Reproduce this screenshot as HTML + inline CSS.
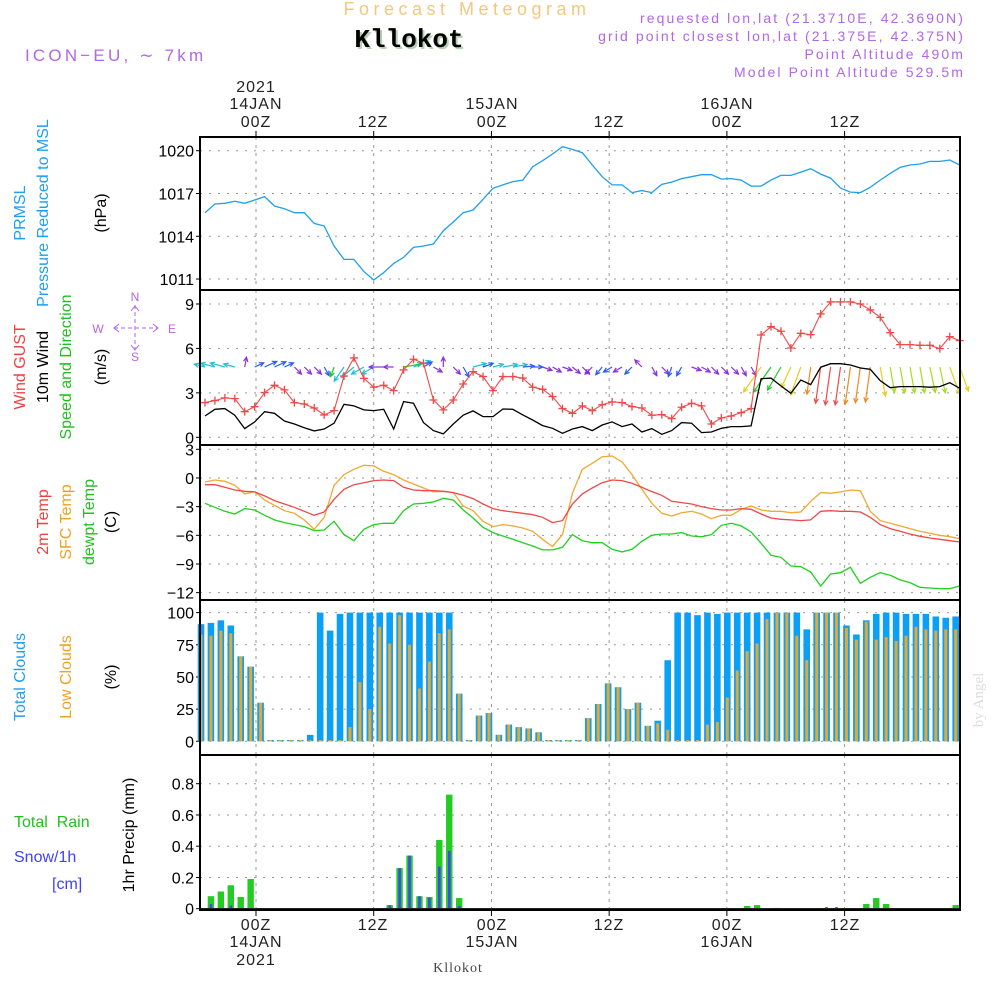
<!DOCTYPE html>
<html><head><meta charset="utf-8">
<style>
html,body{margin:0;padding:0;background:#fff;}
svg{display:block;font-family:"Liberation Sans",sans-serif;}
</style></head>
<body>
<svg id="chart" width="1000" height="1000" viewBox="0 0 1000 1000" xmlns="http://www.w3.org/2000/svg">
  <text x="467" y="15" text-anchor="middle" font-size="18" fill="#f3c77e" letter-spacing="4.5">Forecast Meteogram</text>
  <text x="411" y="49" text-anchor="middle" font-size="26" font-weight="bold" font-family="Liberation Mono,monospace" fill="#b8d0b8">Kllokot</text>
  <text x="409" y="47" text-anchor="middle" font-size="26" font-weight="bold" font-family="Liberation Mono,monospace" fill="#000">Kllokot</text>
  <text x="25" y="61" font-size="17" fill="#b266e8" letter-spacing="3.2">ICON−EU, ∼ 7km</text>
  <g font-size="14" fill="#b266e8" text-anchor="end" letter-spacing="2.1">
    <text x="965" y="23">requested lon,lat (21.3710E, 42.3690N)</text>
    <text x="965" y="41">grid point closest lon,lat (21.375E, 42.375N)</text>
    <text x="965" y="59">Point Altitude 490m</text>
    <text x="965" y="77">Model Point Altitude 529.5m</text>
  </g>
  <g id="toplabels" font-size="16" fill="#222" text-anchor="middle" letter-spacing="1">
    <text x="256" y="92">2021</text><text x="256" y="109">14JAN</text><text x="256" y="127">00Z</text>
    <text x="373" y="127">12Z</text>
    <text x="492" y="109">15JAN</text><text x="492" y="127">00Z</text>
    <text x="609" y="127">12Z</text>
    <text x="727" y="109">16JAN</text><text x="727" y="127">00Z</text>
    <text x="845" y="127">12Z</text>
  </g>
  <g font-size="16" fill="#222" text-anchor="middle" letter-spacing="1">
    <text x="256" y="930">00Z</text><text x="256" y="947">14JAN</text><text x="256" y="965">2021</text>
    <text x="373" y="930">12Z</text>
    <text x="492" y="930">00Z</text><text x="492" y="947">15JAN</text>
    <text x="609" y="930">12Z</text>
    <text x="727" y="930">00Z</text><text x="727" y="947">16JAN</text>
    <text x="845" y="930">12Z</text>
  </g>
  <text x="458" y="972" text-anchor="middle" font-size="14" font-family="Liberation Serif,serif" fill="#444" letter-spacing="1">Kllokot</text>
  <text transform="translate(983,700) rotate(-90)" text-anchor="middle" font-size="15" font-family="Liberation Serif,serif" fill="#ddd">by Angel</text>

  <g font-size="16" text-anchor="middle">
    <text transform="translate(25,213) rotate(-90)" fill="#1e9ff0">PRMSL</text>
    <text transform="translate(48,213) rotate(-90)" fill="#1e9ff0">Pressure Reduced to MSL</text>
    <text transform="translate(106,213) rotate(-90)" fill="#000">(hPa)</text>
  </g>
  <g font-size="16" text-anchor="middle">
    <text transform="translate(25,367) rotate(-90)" fill="#f04040">Wind GUST</text>
    <text transform="translate(48,367) rotate(-90)" fill="#000">10m Wind</text>
    <text transform="translate(71,367) rotate(-90)" fill="#20c020">Speed and Direction</text>
    <text transform="translate(106,367) rotate(-90)" fill="#000">(m/s)</text>
  </g>
  <g fill="#b266e8" stroke="#b266e8" font-size="12" text-anchor="middle">
    <text x="135" y="301" stroke="none">N</text>
    <text x="135" y="361" stroke="none">S</text>
    <text x="98" y="333" stroke="none">W</text>
    <text x="172" y="333" stroke="none">E</text>
    <line x1="135" y1="305" x2="135" y2="349" stroke-dasharray="4 3"/>
    <line x1="114" y1="328" x2="158" y2="328" stroke-dasharray="4 3"/>
    <polyline points="131,311 135,306 139,311" fill="none"/>
    <polyline points="131,345 135,350 139,345" fill="none"/>
    <polyline points="119,324 114,328 119,332" fill="none"/>
    <polyline points="153,324 158,328 153,332" fill="none"/>
  </g>
  <g font-size="16" text-anchor="middle">
    <text transform="translate(48,522) rotate(-90)" fill="#f04040">2m Temp</text>
    <text transform="translate(71,522) rotate(-90)" fill="#f0a020">SFC Temp</text>
    <text transform="translate(94,522) rotate(-90)" fill="#20c020">dewpt Temp</text>
    <text transform="translate(116,522) rotate(-90)" fill="#000">(C)</text>
  </g>
  <g font-size="16" text-anchor="middle">
    <text transform="translate(25,677) rotate(-90)" fill="#1e9ff0">Total Clouds</text>
    <text transform="translate(71,677) rotate(-90)" fill="#f0a020">Low Clouds</text>
    <text transform="translate(116,677) rotate(-90)" fill="#000">(%)</text>
  </g>
  <g font-size="16">
    <text x="14" y="827" fill="#20c020" xml:space="preserve">Total  Rain</text>
    <text x="14" y="862" fill="#4040ff">Snow/1h</text>
    <text x="52" y="889" fill="#4040ff">[cm]</text>
    <text transform="translate(134,835) rotate(-90)" text-anchor="middle" fill="#000">1hr Precip (mm)</text>
  </g>
  <g id="plots"></g>
</svg>
<script>
const timeTickHours = [0, 12, 24, 36, 48, 60];
const pressure = [1015.65,1016.26,1016.31,1016.45,1016.31,1016.54,1016.78,1016.12,1015.93,1015.65,1015.65,1014.9,1014.72,1013.32,1012.38,1012.38,1011.52,1010.93,1011.45,1012.1,1012.52,1013.22,1013.32,1013.46,1014.39,1015.0,1015.65,1015.84,1016.59,1017.36,1017.6,1017.83,1017.94,1018.88,1019.3,1019.77,1020.28,1020.09,1019.86,1019.0,1018.18,1017.6,1017.6,1017.06,1017.2,1017.06,1017.64,1017.8,1018.04,1018.18,1018.32,1018.32,1018.01,1018.04,1017.94,1017.52,1017.52,1017.94,1018.27,1018.27,1018.5,1018.74,1018.36,1018.08,1017.38,1017.1,1017.06,1017.43,1017.94,1018.41,1018.83,1019.0,1019.07,1019.25,1019.25,1019.35,1019.0];
const pressureTicks = [1011, 1014, 1017, 1020];
const gust = [2.34,2.48,2.66,2.61,1.73,2.07,3.02,3.51,3.2,2.34,2.25,1.98,1.51,1.8,4.14,5.36,3.98,3.38,3.51,3.15,4.55,5.27,5.0,2.52,1.85,2.52,3.6,4.43,4.1,3.15,4.1,4.1,4.0,3.38,3.24,2.75,1.94,1.62,2.12,1.8,2.2,2.39,2.34,2.07,1.98,1.49,1.53,1.26,2.03,2.3,2.12,0.9,1.31,1.44,1.67,1.94,6.91,7.47,7.16,6.03,7.02,6.93,8.33,9.14,9.14,9.14,9.0,8.6,8.1,7.07,6.26,6.26,6.21,6.21,5.99,6.8,6.53];
const windSpeed = [1.44,1.89,1.94,1.49,0.59,1.04,1.73,1.62,1.1,0.9,0.65,0.43,0.56,0.95,2.23,2.12,1.85,1.8,1.89,0.56,2.41,2.3,0.99,0.45,0.23,0.9,1.49,1.78,1.4,1.4,1.91,1.89,1.51,1.17,0.79,0.61,0.27,0.56,0.72,0.45,0.83,1.04,0.72,0.9,0.36,0.59,0.2,0.45,0.99,0.95,0.32,0.36,0.61,0.72,0.72,0.77,3.96,4.0,3.47,2.97,3.87,3.56,4.73,4.97,4.97,4.88,4.68,4.59,3.83,3.35,3.42,3.42,3.42,3.38,3.42,3.69,3.31];
const windDir = [285,285,285,285,10,65,65,65,65,135,135,135,150,200,215,230,240,240,270,270,80,70,60,120,0,135,150,75,70,75,80,80,85,90,110,120,110,130,135,225,220,240,240,225,315,150,135,200,210,110,120,135,135,135,150,150,215,215,210,205,200,188,188,188,188,188,188,188,170,170,170,170,170,168,168,160,160];
const windColorClass = ["C","C","C","C","P","B","B","B","B","P","P","P","B","G","C","C","C","C","P","P","G","C","B","P","P","P","B","C","B","C","C","C","B","B","P","P","P","P","P","P","B","B","P","B","P","P","P","B","B","P","P","P","P","P","P","P","Y","G","G","Y","Y","O","R","R","R","O","O","O","Y","YG","YG","YG","YG","YG","YG","Y","Y"];
const windTicks = [0, 3, 6, 9];
const temp2m = [-0.70,-0.70,-0.98,-1.26,-1.39,-1.46,-1.88,-2.37,-2.72,-3.07,-3.49,-3.91,-3.56,-2.23,-1.19,-0.70,-0.49,-0.28,-0.21,-0.28,-0.98,-1.26,-1.33,-1.33,-1.39,-1.53,-1.81,-2.16,-2.72,-3.21,-3.42,-3.56,-3.70,-3.84,-4.12,-4.67,-4.46,-2.72,-1.67,-1.05,-0.49,-0.21,-0.28,-0.56,-0.98,-1.43,-1.81,-2.44,-2.58,-2.72,-3.00,-3.21,-3.35,-3.35,-3.21,-3.28,-3.77,-4.19,-4.32,-4.39,-4.46,-4.39,-3.49,-3.42,-3.49,-3.49,-3.56,-4.12,-4.88,-5.30,-5.58,-5.86,-6.10,-6.28,-6.42,-6.56,-6.70];
const tempSfc = [-0.42,-0.21,-0.35,-0.77,-1.67,-1.43,-2.30,-2.86,-3.42,-3.70,-4.39,-5.37,-4.12,-0.77,0.35,0.91,1.33,1.26,0.70,0.35,-0.21,-0.63,-1.05,-1.46,-1.39,-1.53,-2.93,-3.42,-4.53,-5.09,-4.88,-5.02,-5.23,-5.58,-6.42,-7.18,-5.93,-1.60,0.91,1.54,2.23,2.30,1.67,0.35,-1.19,-2.65,-3.70,-3.98,-3.63,-3.49,-3.77,-4.26,-3.91,-3.91,-3.28,-2.93,-3.35,-3.49,-3.49,-3.63,-3.56,-2.44,-1.53,-1.60,-1.46,-1.26,-1.33,-3.49,-4.46,-4.74,-5.02,-5.30,-5.58,-5.79,-6.00,-6.14,-6.35];
const dewpoint = [-2.65,-3.07,-3.49,-3.77,-3.21,-3.35,-3.91,-4.39,-4.67,-4.88,-5.09,-5.51,-5.44,-4.53,-5.93,-6.56,-5.37,-4.88,-4.74,-4.74,-3.42,-2.72,-2.65,-2.51,-2.13,-2.30,-3.35,-4.19,-5.16,-5.72,-6.07,-6.42,-6.77,-7.12,-7.53,-7.53,-7.25,-5.93,-6.56,-6.77,-6.77,-7.46,-7.74,-7.46,-6.63,-6.00,-5.86,-5.86,-5.72,-6.07,-6.14,-5.93,-4.95,-4.74,-5.02,-5.65,-6.84,-8.09,-8.30,-9.21,-9.28,-9.84,-11.30,-10.05,-9.91,-9.35,-11.02,-10.39,-9.91,-10.18,-10.67,-10.95,-11.44,-11.51,-11.58,-11.58,-11.30];
const tempTicks = [-12, -9, -6, -3, 0, 3];
const totalClouds = [91,92,94,90,66,58,30,1,1,1,1,5,100,86,99,100,100,100,100,100,100,100,100,100,100,100,37,1,20,22,5,13,11,10,7,1,1,1,1,18,29,45,42,25,30,12,16,63,100,100,98,100,99,100,100,100,100,100,100,100,100,87,100,100,100,90,83,94,99,100,100,99,99,99,97,96,97];
const lowClouds = [83,82,86,84,66,58,30,1,1,1,1,1,1,1,1,11,46,25,89,76,98,75,41,62,84,87,37,1,20,22,5,13,11,10,7,1,1,1,1,18,29,45,42,25,30,12,14,9,1,1,1,13,15,34,55,70,76,95,100,100,82,63,100,100,100,88,79,93,79,81,78,82,89,87,86,87,87];
const cloudTicks = [0, 25, 50, 75, 100];
const rain = [0,0.08,0.11,0.15,0.075,0.19,0.003,0,0,0,0,0,0,0,0,0,0,0,0,0.023,0.26,0.34,0.08,0.075,0.44,0.73,0.068,0,0,0,0,0,0,0,0,0,0,0,0,0,0,0,0,0,0,0,0,0,0,0,0,0,0,0,0,0.017,0.023,0,0.005,0,0,0,0,0,0,0,0,0.03,0.068,0.03,0.003,0,0,0,0,0,0.023];
const snow = [0,0.03,0.003,0.02,0,0,0,0,0,0,0,0,0,0,0,0,0,0,0,0.023,0.26,0.34,0.08,0.07,0.27,0.37,0.017,0,0,0,0,0,0,0,0,0,0,0,0,0,0,0,0,0,0,0,0,0,0,0,0,0,0,0,0,0,0,0,0.003,0,0,0,0,0.01,0.01,0,0,0,0,0,0,0,0,0,0,0.003,0];
const precipTicks = [0, 0.2, 0.4, 0.6, 0.8];

const X0 = 200, X1 = 960;
const xIdx = i => 205 + i * 9.93;
const xHour = h => 256 + h * 9.81;
const panels = [
  {name:'pressure', top:137, bot:290, y: v => 150.7 + (1020 - v) * 14.26, ticks: pressureTicks, fmt: v => String(v)},
  {name:'wind', top:290, bot:445, y: v => 437.3 - v * 14.81, ticks: windTicks, fmt: v => String(v)},
  {name:'temperature', top:445, bot:600, y: v => 449.3 + (3 - v) * 9.557, ticks: tempTicks, fmt: v => v < 0 ? '−' + Math.abs(v) : String(v)},
  {name:'clouds', top:600, bot:755, y: v => 741.3 - v * 1.287, ticks: cloudTicks, fmt: v => String(v)},
  {name:'precip', top:755, bot:910, y: v => 908.7 - v * 156.25, ticks: precipTicks, fmt: v => v === 0 ? '0' : v.toFixed(1)}
];
const NS = 'http://www.w3.org/2000/svg';
const root = document.getElementById('plots');
function mk(tag, attrs, parent) {
  const e = document.createElementNS(NS, tag);
  for (const k in attrs) e.setAttribute(k, attrs[k]);
  (parent || root).appendChild(e);
  return e;
}
function linePath(arr, yf) {
  return arr.map((v, i) => (i ? 'L' : 'M') + xIdx(i).toFixed(1) + ',' + yf(v).toFixed(1)).join(' ');
}

panels.forEach(p => {
  const g = mk('g', {});
  
  
  timeTickHours.forEach(h => {
    const l = mk('line', {x1: xHour(h), x2: xHour(h), y1: p.top, y2: p.bot, stroke: '#999', 'stroke-dasharray': '3 5'}, g);
    
    
  });
  p.ticks.forEach(t => {
    const y = p.y(t);
    const gl = mk('line', {x1: X0, x2: X1, y1: y, y2: y, stroke: '#999', 'stroke-dasharray': '2 7'}, g);
    
    
    mk('line', {x1: X0 - 4, x2: X0, y1: y, y2: y, stroke: '#000'}, g);
    const tx = mk('text', {x: 194, y: y + 6, 'text-anchor': 'end', 'font-size': 16, fill: '#000'}, g);
    tx.textContent = p.fmt(t);
    
    
  });
  p.g = g;
});

const pl = mk('path', {d: linePath(pressure, panels[0].y), fill: 'none', stroke: '#1e9ff0', 'stroke-width': 1.3});



const colorMap = {P:'#8a30e0', B:'#2a5cf0', C:'#20c0d0', G:'#20c830', Y:'#e6cf20', YG:'#a6dc20', O:'#f08a20', R:'#f04848'};
const aw = panels[1];
windDir.forEach((d, i) => {
  const len = Math.max(10, windSpeed[i] * 7.7);
  const a = d * Math.PI / 180;
  const x1 = xIdx(i), y1 = 367;
  const x2 = x1 + Math.sin(a) * len, y2 = y1 - Math.cos(a) * len;
  const c = colorMap[windColorClass[i]];
  const hl = 5, ha = 0.45;
  const b = Math.atan2(y2 - y1, x2 - x1);
  const pts = `${(x2 - hl*Math.cos(b-ha)).toFixed(1)},${(y2 - hl*Math.sin(b-ha)).toFixed(1)} ${x2.toFixed(1)},${y2.toFixed(1)} ${(x2 - hl*Math.cos(b+ha)).toFixed(1)},${(y2 - hl*Math.sin(b+ha)).toFixed(1)}`;
  const ag = mk('g', {stroke: c, fill: 'none', 'stroke-width': 1.2});
  
  
  mk('line', {x1, y1, x2: x2.toFixed(1), y2: y2.toFixed(1)}, ag);
  mk('polyline', {points: pts}, ag);
});
const gl = mk('path', {d: linePath(gust, aw.y), fill: 'none', stroke: '#f04848', 'stroke-width': 1.1});


gust.forEach((v, i) => {
  const x = xIdx(i), y = aw.y(v);
  const m = mk('path', {d: `M${x-4},${y}H${x+4}M${x},${y-4}V${y+4}`, stroke: '#f04848', 'stroke-width': 1.3});
  
  
});
const wl = mk('path', {d: linePath(windSpeed, aw.y), fill: 'none', stroke: '#000', 'stroke-width': 1.3});



const tp = panels[2];
[[tempSfc, '#f0a830', 'sfc-temp-line'], [temp2m, '#f04848', 'temp-2m-line'], [dewpoint, '#20d020', 'dewpoint-line']].forEach(s => {
  const l = mk('path', {d: linePath(s[0], tp.y), fill: 'none', stroke: s[1], 'stroke-width': 1.3});
  
  
});

const cp = panels[3];
totalClouds.forEach((v, i) => {
  const xc = xIdx(i) - 4;
  const y = cp.y(v), y0 = cp.y(0);
  const r = mk('rect', {x: xc - 3.3, y, width: 6.6, height: y0 - y, fill: '#0aa0f5'});
  
  
  const yl = cp.y(lowClouds[i]);
  const r2 = mk('rect', {x: xc - 1.5, y: yl, width: 3, height: y0 - yl, fill: '#e8a830'});
  
  
});

const rp = panels[4];
rain.forEach((v, i) => {
  const xc = xIdx(i) - 4;
  const y0 = rp.y(0);
  if (v > 0) {
    const y = rp.y(v);
    const r = mk('rect', {x: xc - 3.2, y, width: 6.4, height: y0 - y, fill: '#22cc22'});
    
    
  }
  if (snow[i] > 0) {
    const ys = rp.y(snow[i]);
    const r2 = mk('rect', {x: xc - 1.3, y: ys, width: 2.6, height: y0 - ys, fill: '#4444ff'});
    
    
  }
});
const base = mk('line', {x1: X0, x2: X1, y1: rp.y(0), y2: rp.y(0), stroke: '#222', 'stroke-width': 1.5});



panels.forEach(p => {
  const f = mk('rect', {x: X0, y: p.top, width: X1 - X0, height: p.bot - p.top, fill: 'none', stroke: '#000', 'stroke-width': 2});
  
  
});
timeTickHours.forEach(h => {
  mk('line', {x1: xHour(h), x2: xHour(h), y1: 131, y2: 137, stroke: '#000'});
  mk('line', {x1: xHour(h), x2: xHour(h), y1: 910, y2: 916, stroke: '#000'});
});
</script>
</body></html>
